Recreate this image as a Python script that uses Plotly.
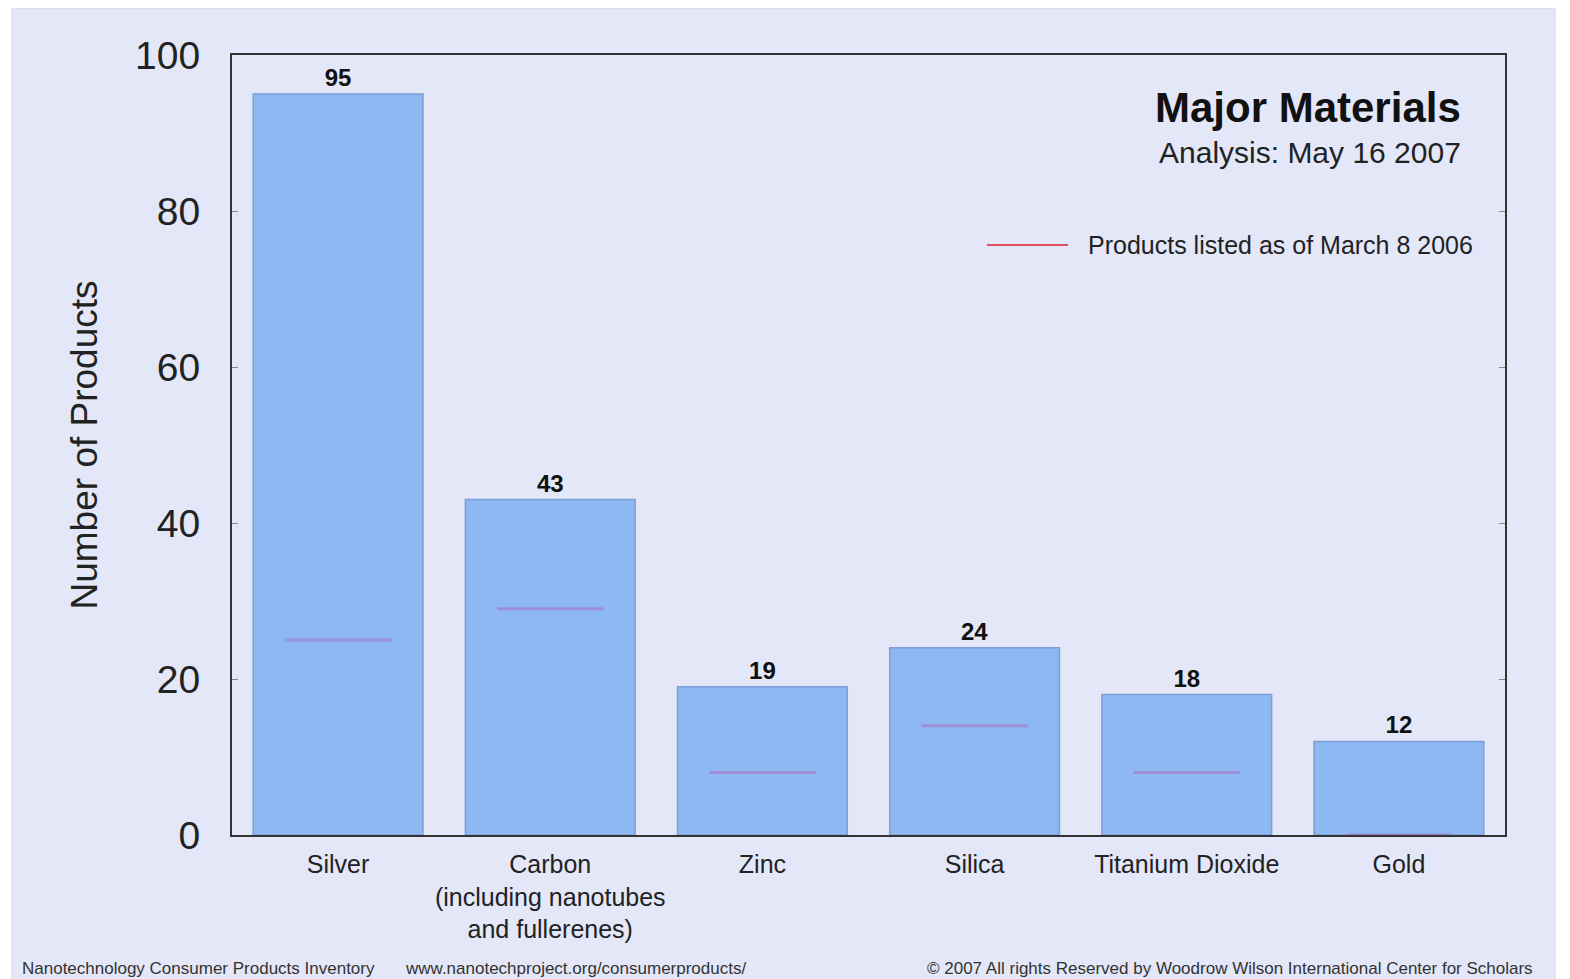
import plotly.graph_objects as go

categories = ["Silver", "Carbon<br>(including nanotubes<br>and fullerenes)", "Zinc", "Silica",
              "Titanium Dioxide", "Gold"]
products_2007 = [95, 43, 19, 24, 18, 12]
products_2006 = [25, 29, 8, 14, 8, 0]
y_ticks = [0, 20, 40, 60, 80, 100]

OFF = 8  # default page body margin
W, H = 1570 - OFF, 979 - OFF
L, R, T, B = 232 - OFF, 65, 55 - OFF, 144
pw, ph = W - L - R, H - T - B

def px(x):  # window pixel -> paper
    return (x - OFF - L) / pw

def py(y):
    return (OFF + H - B - y) / ph

idx = list(range(len(categories)))
font = "Liberation Sans, Arial, sans-serif"
narrow = "Liberation Sans Narrow, Arial Narrow, Liberation Sans, sans-serif"

fig = go.Figure()
fig.add_trace(go.Bar(
    x=idx, y=products_2007, width=0.8,
    marker=dict(color="#8db8f2", line=dict(color="#7b9fd6", width=1.5)),
    text=products_2007, textposition="outside", cliponaxis=False,
    textfont=dict(family=font, size=24, color="#111"),
    texttemplate="<b>%{text}</b>", showlegend=False, hoverinfo="skip"))

lx, ly = [], []
for i, v in zip(idx, products_2006):
    lx += [i - 0.25, i + 0.25, None]
    ly += [v, v, None]
fig.add_trace(go.Scatter(x=lx, y=ly, mode="lines",
                         line=dict(color="rgba(175,100,190,0.5)", width=3),
                         showlegend=False, hoverinfo="skip", cliponaxis=False))

shapes = [
    dict(type="rect", xref="paper", yref="paper", x0=px(12), x1=px(1555), y0=py(985), y1=py(8),
         fillcolor="#e3e7f8", line=dict(color="#d4d8e6", width=1), layer="below"),
    dict(type="line", xref="paper", yref="paper", x0=px(987), x1=px(1068), y0=py(245), y1=py(245),
         line=dict(color="#e05060", width=2)),
]

annotations = [
    dict(text="<b>Major Materials</b>", xref="paper", yref="paper", x=px(1463), y=py(108),
         xanchor="right", yanchor="middle", showarrow=False, font=dict(family=font, size=42, color="#111")),
    dict(text="Analysis: May 16 2007", xref="paper", yref="paper", x=px(1463), y=py(152),
         xanchor="right", yanchor="middle", showarrow=False, font=dict(family=font, size=30, color="#222")),
    dict(text="Products listed as of March 8 2006", xref="paper", yref="paper", x=px(1086), y=py(245),
         xanchor="left", yanchor="middle", showarrow=False, font=dict(family=font, size=25, color="#222")),
    dict(text="Nanotechnology Consumer Products Inventory", xref="paper", yref="paper", x=px(20), y=py(968),
         xanchor="left", yanchor="middle", showarrow=False, font=dict(family=narrow, size=17, color="#333")),
    dict(text="www.nanotechproject.org/consumerproducts/", xref="paper", yref="paper", x=px(403), y=py(968),
         xanchor="left", yanchor="middle", showarrow=False, font=dict(family=narrow, size=17, color="#333")),
    dict(text="© 2007 All rights Reserved by Woodrow Wilson International Center for Scholars", xref="paper",
         yref="paper", x=px(1535), y=py(968), xanchor="right", yanchor="middle", showarrow=False,
         font=dict(family=narrow, size=17, color="#333")),
]

fig.update_layout(
    width=W, height=H, margin=dict(l=L, r=R, t=T, b=B, autoexpand=False),
    paper_bgcolor="white", plot_bgcolor="#e3e7f8",
    shapes=shapes, annotations=annotations, bargap=0.2,
    font=dict(family=font, color="#222"),
)
fig.update_xaxes(range=[-0.5, len(categories) - 0.5], tickvals=idx, ticktext=categories,
                 showgrid=False, zeroline=False, showline=True, linecolor="#333", linewidth=2,
                 mirror=True, ticks="", ticklabelstandoff=6, tickfont=dict(size=25, color="#222"))
fig.update_yaxes(range=[0, 100], tickvals=y_ticks, showgrid=False, zeroline=False,
                 showline=True, linecolor="#333", linewidth=2, mirror="ticks", ticks="inside",
                 ticklen=6, tickcolor="#888", ticklabelstandoff=22, tickfont=dict(size=39, color="#222"),
                 title=dict(text="Number of Products", font=dict(size=37, color="#222"), standoff=26))
fig.write_html("out.html")
